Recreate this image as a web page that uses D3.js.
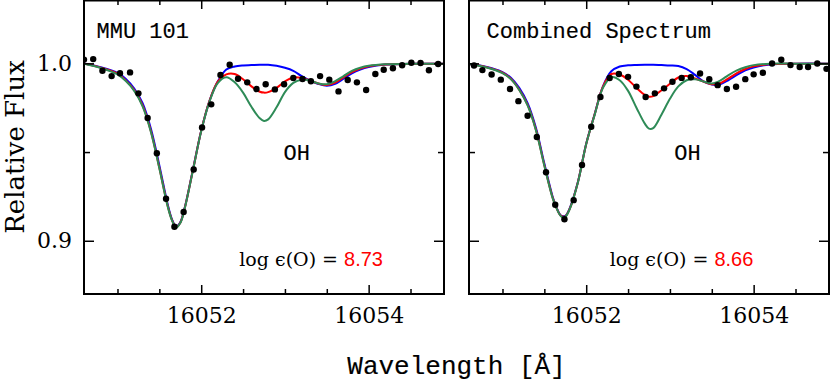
<!DOCTYPE html>
<html>
<head>
<meta charset="utf-8">
<script src="https://cdn.jsdelivr.net/npm/d3@7"></script>
<style>
  body { margin: 0; background: #fff; }
  .tick text { font-family: "DejaVu Serif", serif; font-size: 22px; fill: #000; }
  .tick line { stroke: #000; stroke-width: 1.5px; }
  .mono { font-family: "Liberation Mono", monospace; stroke: #000; stroke-width: 0.15px; }
</style>
</head>
<body>
<div id="chart"></div>
<script>
// Observed spectrum, MMU 101 (wavelength in A, relative flux)
const mmuWave = [16050.60, 16050.71, 16050.82, 16050.93, 16051.03, 16051.15, 16051.25, 16051.36,
  16051.47, 16051.58, 16051.68, 16051.79, 16051.91, 16052.01, 16052.12, 16052.23, 16052.34,
  16052.44, 16052.55, 16052.66, 16052.77, 16052.88, 16052.99, 16053.10, 16053.21, 16053.31,
  16053.42, 16053.53, 16053.64, 16053.75, 16053.86, 16053.97, 16054.08, 16054.18, 16054.29,
  16054.40, 16054.51, 16054.62, 16054.72, 16054.83];
const mmuFlux = [1.0021, 1.0024, 0.9958, 0.9928, 0.9944, 0.9949, 0.9831, 0.9692,
  0.9493, 0.9237, 0.9079, 0.9162, 0.9402, 0.9639, 0.9769, 0.9934, 0.9992,
  0.9913, 0.9893, 0.9855, 0.9882, 0.9853, 0.9882, 0.9917, 0.9912, 0.9899,
  0.9928, 0.9908, 0.9842, 0.9906, 0.9893, 0.9850, 0.9940, 0.9964, 0.9972,
  0.9989, 1.0003, 1.0002, 0.9961, 0.9996];

// Observed spectrum, combined
const combWave = [16050.66, 16050.76, 16050.87, 16050.98, 16051.09, 16051.19, 16051.30, 16051.41,
  16051.52, 16051.63, 16051.74, 16051.85, 16051.95, 16052.06, 16052.17, 16052.28, 16052.39,
  16052.50, 16052.60, 16052.71, 16052.82, 16052.93, 16053.03, 16053.14, 16053.25, 16053.36,
  16053.47, 16053.57, 16053.68, 16053.79, 16053.90, 16054.00, 16054.11, 16054.22, 16054.33,
  16054.44, 16054.55, 16054.65, 16054.76, 16054.87];
const combFlux = [0.9988, 0.9962, 0.9937, 0.9908, 0.9855, 0.9787, 0.9705, 0.9585,
  0.9386, 0.9203, 0.9121, 0.9229, 0.9427, 0.9643, 0.9810, 0.9917, 0.9940,
  0.9924, 0.9869, 0.9810, 0.9831, 0.9859, 0.9896, 0.9918, 0.9922, 0.9943,
  0.9911, 0.9877, 0.9855, 0.9868, 0.9911, 0.9938, 0.9947, 0.9999, 1.0020,
  0.9990, 0.9979, 0.9979, 0.9999, 0.9969];

// Synthetic spectra, sampled on a common wavelength grid
const modelWave = [16050.60, 16050.80, 16051.00, 16051.10, 16051.20, 16051.30, 16051.40, 16051.50,
  16051.60, 16051.65, 16051.70, 16051.75, 16051.80, 16051.90, 16052.00, 16052.10, 16052.20,
  16052.30, 16052.40, 16052.50, 16052.60, 16052.70, 16052.75, 16052.80, 16052.90, 16053.00,
  16053.10, 16053.20, 16053.30, 16053.40, 16053.50, 16053.60, 16053.70, 16053.80, 16053.90,
  16054.00, 16054.20, 16054.50, 16054.90];

const mmuBlue = [0.9999, 0.9978, 0.9946, 0.9912, 0.9858, 0.9775, 0.9630, 0.9425,
  0.9205, 0.9122, 0.9080, 0.9104, 0.9180, 0.9398, 0.9620, 0.9790, 0.9900,
  0.9965, 0.9982, 0.9988, 0.9990, 0.9992, 0.9992, 0.9992, 0.9986, 0.9975,
  0.9958, 0.9928, 0.9903, 0.9884, 0.9874, 0.9884, 0.9913, 0.9944, 0.9965,
  0.9979, 0.9993, 0.9997, 0.9998];
const mmuRed = [0.9999, 0.9976, 0.9942, 0.9904, 0.9849, 0.9763, 0.9616, 0.9411,
  0.9196, 0.9118, 0.9077, 0.9102, 0.9178, 0.9396, 0.9620, 0.9790, 0.9898,
  0.9938, 0.9940, 0.9910, 0.9870, 0.9840, 0.9835, 0.9838, 0.9862, 0.9898,
  0.9920, 0.9918, 0.9903, 0.9886, 0.9878, 0.9891, 0.9921, 0.9951, 0.9971,
  0.9984, 0.9994, 0.9997, 0.9998];
const mmuGreen = [0.9998, 0.9974, 0.9938, 0.9900, 0.9845, 0.9758, 0.9612, 0.9408,
  0.9193, 0.9116, 0.9075, 0.9100, 0.9176, 0.9394, 0.9618, 0.9786, 0.9890,
  0.9921, 0.9893, 0.9835, 0.9755, 0.9690, 0.9675, 0.9684, 0.9752, 0.9838,
  0.9890, 0.9908, 0.9903, 0.9887, 0.9882, 0.9900, 0.9928, 0.9957, 0.9975,
  0.9986, 0.9995, 0.9997, 0.9998];

const combBlue = [0.9996, 0.9981, 0.9951, 0.9919, 0.9862, 0.9775, 0.9635, 0.9435,
  0.9247, 0.9183, 0.9142, 0.9140, 0.9180, 0.9330, 0.9547, 0.9712, 0.9870,
  0.9955, 0.9982, 0.9989, 0.9991, 0.9992, 0.9992, 0.9992, 0.9990, 0.9988,
  0.9985, 0.9968, 0.9935, 0.9898, 0.9880, 0.9882, 0.9906, 0.9935, 0.9960,
  0.9977, 0.9994, 0.9998, 0.9998];
const combRed = [0.9996, 0.9979, 0.9947, 0.9913, 0.9852, 0.9766, 0.9625, 0.9426,
  0.9242, 0.9180, 0.9140, 0.9138, 0.9177, 0.9329, 0.9546, 0.9711, 0.9868,
  0.9940, 0.9937, 0.9908, 0.9862, 0.9822, 0.9812, 0.9815, 0.9848, 0.9885,
  0.9920, 0.9928, 0.9915, 0.9898, 0.9882, 0.9888, 0.9915, 0.9945, 0.9968,
  0.9983, 0.9996, 0.9998, 0.9998];
const combGreen = [0.9996, 0.9978, 0.9945, 0.9911, 0.9850, 0.9763, 0.9622, 0.9423,
  0.9239, 0.9178, 0.9138, 0.9136, 0.9175, 0.9327, 0.9545, 0.9708, 0.9862,
  0.9922, 0.9905, 0.9845, 0.9750, 0.9660, 0.9632, 0.9635, 0.9712, 0.9800,
  0.9870, 0.9905, 0.9910, 0.9898, 0.9887, 0.9903, 0.9934, 0.9960, 0.9978,
  0.9990, 0.9998, 0.9998, 0.9998];

// Tick values
const xMajorTicks = [16052, 16054];
const xMinorTicks = [16051, 16051.5, 16052.5, 16053, 16053.5, 16054.5];
const yMajorTicks = [0.9, 1.0];
const yMinorTicks = [0.95];

// Panel labels
const panelTitles = ['MMU 101', 'Combined Spectrum'];
const abundances = ['8.73', '8.66'];

// SVG Canvas Parameters
const svgWidth = 831;
const svgHeight = 384;
const plotTop = 0;
const plotBottom = 294;
const panelLefts = [84, 469];
const panelWidth = 360;

const svg = d3.select('#chart')
  .append('svg')
  .attr('width', svgWidth)
  .attr('height', svgHeight);

const yScale = d3.scaleLinear()
  .domain([0.87, 1.0357])
  .range([plotBottom, plotTop]);

const panels = [
  { wave: mmuWave, flux: mmuFlux, models: [mmuBlue, mmuRed, mmuGreen],
    titleX: 16050.75, ohX: 16053.14, abX: 16052.455 },
  { wave: combWave, flux: combFlux, models: [combBlue, combRed, combGreen],
    titleX: 16050.81, ohX: 16053.21, abX: 16052.28 }
];
const modelColors = ['#0000ff', '#ff0000', '#2e8b57'];

panels.forEach(function(p, i) {
  const left = panelLefts[i];
  const right = left + panelWidth;

  const xScale = d3.scaleLinear()
    .domain([16050.6, 16054.9])
    .range([left, right]);

  const g = svg.append('g');

  // clip so lines don't spill over the frame
  svg.append('clipPath').attr('id', 'clip' + i)
    .append('rect')
    .attr('x', left).attr('y', plotTop)
    .attr('width', panelWidth).attr('height', plotBottom - plotTop);

  const plot = g.append('g').attr('clip-path', 'url(#clip' + i + ')');

  // synthetic spectra
  const line = d3.line()
    .x((d) => xScale(d[0]))
    .y((d) => yScale(d[1]))
    .curve(d3.curveCatmullRom);

  p.models.forEach(function(m, k) {
    plot.append('path')
      .datum(modelWave.map((w, j) => [w, m[j]]))
      .attr('d', line)
      .attr('fill', 'none')
      .attr('stroke', modelColors[k])
      .attr('stroke-width', 2);
  });

  // observed points
  plot.selectAll('circle')
    .data(p.wave.map((w, j) => [w, p.flux[j]]))
    .enter()
    .append('circle')
    .attr('cx', (d) => xScale(d[0]))
    .attr('cy', (d) => yScale(d[1]))
    .attr('r', 3.2)
    .attr('fill', '#000');

  // axes: major / minor ticks on all four sides
  g.append('g')
    .attr('transform', 'translate(0,' + plotBottom + ')')
    .call(d3.axisBottom(xScale).tickValues(xMajorTicks).tickSizeInner(-9).tickSizeOuter(0)
      .tickPadding(13).tickFormat(d3.format('d')));
  g.append('g')
    .attr('transform', 'translate(0,' + plotBottom + ')')
    .call(d3.axisBottom(xScale).tickValues(xMinorTicks).tickSizeInner(-5).tickSizeOuter(0).tickFormat(''));
  g.append('g')
    .attr('transform', 'translate(0,' + plotTop + ')')
    .call(d3.axisTop(xScale).tickValues(xMajorTicks).tickSizeInner(-9).tickSizeOuter(0).tickFormat(''));
  g.append('g')
    .attr('transform', 'translate(0,' + plotTop + ')')
    .call(d3.axisTop(xScale).tickValues(xMinorTicks).tickSizeInner(-5).tickSizeOuter(0).tickFormat(''));

  g.append('g')
    .attr('transform', 'translate(' + left + ',0)')
    .call(d3.axisLeft(yScale).tickValues(yMajorTicks).tickSizeInner(-10).tickSizeOuter(0)
      .tickPadding(12).tickFormat(i === 0 ? d3.format('.1f') : ''));
  g.append('g')
    .attr('transform', 'translate(' + left + ',0)')
    .call(d3.axisLeft(yScale).tickValues(yMinorTicks).tickSizeInner(-6).tickSizeOuter(0).tickFormat(''));
  g.append('g')
    .attr('transform', 'translate(' + right + ',0)')
    .call(d3.axisRight(yScale).tickValues(yMajorTicks).tickSizeInner(-10).tickSizeOuter(0).tickFormat(''));
  g.append('g')
    .attr('transform', 'translate(' + right + ',0)')
    .call(d3.axisRight(yScale).tickValues(yMinorTicks).tickSizeInner(-6).tickSizeOuter(0).tickFormat(''));

  g.selectAll('.domain').remove();

  // frame
  g.append('rect')
    .attr('x', left)
    .attr('y', plotTop + 0.5)
    .attr('width', panelWidth)
    .attr('height', plotBottom - plotTop - 0.5)
    .attr('fill', 'none')
    .attr('stroke', '#000')
    .attr('stroke-width', 2);

  // panel title
  g.append('text')
    .attr('class', 'mono')
    .attr('x', xScale(p.titleX))
    .attr('y', yScale(1.0143))
    .attr('font-size', '22px')
    .text(panelTitles[i]);

  // OH label
  g.append('text')
    .attr('class', 'mono')
    .attr('x', xScale(p.ohX))
    .attr('y', yScale(0.9455))
    .attr('text-anchor', 'middle')
    .attr('font-size', '22px')
    .text('OH');

  // abundance label
  const ab = g.append('text')
    .attr('x', xScale(p.abX))
    .attr('y', yScale(0.8857))
    .attr('font-family', '"DejaVu Serif", serif')
    .attr('font-size', '19px');
  ab.append('tspan').text('log \u03F5(O) =' + (i === 0 ? ' ' : '  '));
  ab.append('tspan')
    .attr('fill', '#ff0000')
    .attr('font-family', '"Liberation Sans", sans-serif')
    .attr('font-size', '20px')
    .text(abundances[i]);
});

// Axis labels
svg.append('text')
  .attr('transform', 'translate(24,' + (plotBottom / 2) + ') rotate(-90)')
  .attr('text-anchor', 'middle')
  .attr('font-family', '"DejaVu Serif", serif')
  .attr('font-size', '26px')
  .text('Relative Flux');

svg.append('text')
  .attr('class', 'mono')
  .attr('x', (panelLefts[0] + panelLefts[1] + panelWidth) / 2)
  .attr('y', 374)
  .attr('text-anchor', 'middle')
  .attr('font-size', '26px')
  .text('Wavelength [\u00C5]');
</script>
</body>
</html>
